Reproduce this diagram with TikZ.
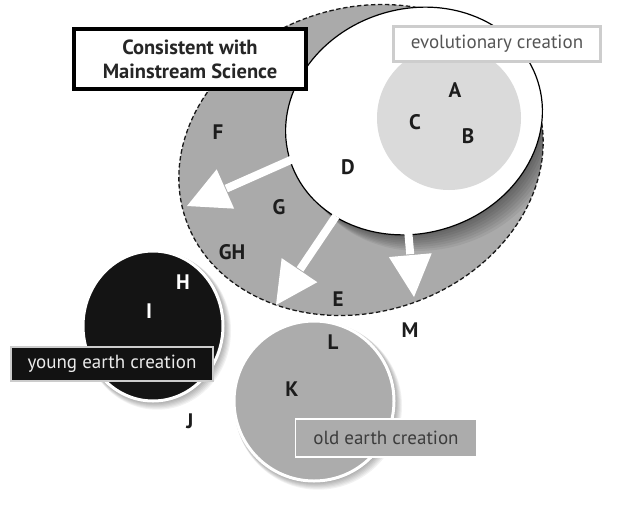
\documentclass[tikz,border=0pt]{standalone}
\usepackage{fontspec}
\setmainfont{PT Sans}
\usetikzlibrary{calc}
\definecolor{ringgray}{RGB}{170,170,170}
\definecolor{evogray}{RGB}{218,218,218}
\definecolor{oldgray}{RGB}{172,172,172}
\definecolor{lettercol}{RGB}{28,28,28}
\definecolor{evoedge}{RGB}{205,205,205}
\definecolor{evotext}{RGB}{85,85,85}
\definecolor{oldtext}{RGB}{60,60,60}
\begin{document}
\begin{tikzpicture}[x=1pt,y=-1pt,
  letter/.style={font=\bfseries\fontsize{21}{21}\selectfont, text=lettercol, inner sep=0pt},
  whiteletter/.style={letter, text=white},
  shaft/.style={draw=white, line width=8pt},
  head/.style={fill=white},
  tag/.style={font=\fontsize{19}{22}\selectfont, inner sep=0pt, anchor=center},
  ringshape/.style={x radius=185, y radius=152, rotate=18},
  innershape/.style={x radius=130, y radius=112, rotate=18}
]
\useasboundingbox (0,0) rectangle (639,506);

% outer ring of views consistent with mainstream science
\path[fill=ringgray] (361,160) ellipse [ringshape];

% soft shadow of the inner ellipse on the ring
\begin{scope}
  \clip (361,160) ellipse [ringshape];
  \foreach \d in {16,14,...,2}
    \fill[black, opacity=0.06] ($(414,121)+(\d,\d)$) ellipse [innershape];
\end{scope}
\draw[black!90, line width=1.3pt, dash pattern=on 4.5pt off 2.5pt] (361,160) ellipse [ringshape];

% inner white ellipse
\draw[fill=white, line width=1.2pt] (414,121) ellipse [innershape];

% evolutionary creation disc
\fill[evogray] (449,118) circle [radius=72];

% arrows leaving the inner ellipse
\coordinate (s1) at (293,159);  \coordinate (t1) at (187,206);
\coordinate (s2) at (336,216);  \coordinate (t2) at (276,305);
\coordinate (s3) at (408,229);  \coordinate (t3) at (414,297);
\foreach \i in {1,2,3} {
  \coordinate (b\i) at ($(t\i)!42pt!(s\i)$);
  \draw[shaft] (s\i) -- ($(b\i)!-1pt!(t\i)$);
  \fill[head] (t\i) -- ($(b\i)!21.5pt!90:(t\i)$) -- ($(b\i)!21.5pt!-90:(t\i)$) -- cycle;
}

% young earth creation disc with a soft shadow
\foreach \d in {7,6,...,1}
  \fill[black, opacity=0.05] ($(153,326)+(\d*0.6,\d*0.7)$) ellipse [x radius=71+\d*0.4, y radius=76+\d*0.4];
\draw[fill=black!92, draw=white, line width=3pt] (153,326) ellipse [x radius=70, y radius=75];

% old earth creation disc with a soft shadow
\foreach \d in {7,6,...,1}
  \fill[black, opacity=0.05] ($(314,401)+(\d*0.6,\d*0.7)$) circle [radius=81+\d*0.4];
\draw[fill=oldgray, draw=white, line width=3pt] (314,401) circle [radius=80];

% letters
\node[letter] (A) at (455,90) {A};
\node[letter] (C) at (415,122) {C};
\node[letter] (B) at (468,136) {B};
\node[letter] (D) at (348,167) {D};
\node[letter] (F) at (218,132) {F};
\node[letter] (G) at (279,207) {G};
\node[letter] (GH) at (232,252) {GH};
\node[letter] (E) at (338,299) {E};
\node[whiteletter] (H) at (183,282) {H};
\node[whiteletter] (I) at (149,311) {I};
\node[letter] (J) at (190,421) {J};
\node[letter] (L) at (333,342) {L};
\node[letter] (K) at (292,389) {K};
\node[letter] (M) at (410,330) {M};

% labels
\node[draw=black, line width=3.5pt, fill=white, minimum width=232pt, minimum height=60pt,
      align=center, inner sep=0pt, text=black!85,
      font=\bfseries\fontsize{20.5}{24}\selectfont] (science) at (190,59)
      {Consistent with\\Mainstream Science};
\node[tag, draw=evoedge, line width=3pt, fill=white, text=evotext,
      minimum width=207pt, minimum height=35pt] (evo) at (497,44) {evolutionary creation};
\node[tag, draw=black!20, line width=1.2pt, fill=black!93, text=white!92!black,
      minimum width=202pt, minimum height=34pt] (young) at (112,364) {young earth creation};
\node[tag, draw=white, line width=1.2pt, fill=oldgray, text=oldtext,
      minimum width=181pt, minimum height=38pt] (old) at (386,438) {old earth creation};
\end{tikzpicture}
\end{document}
